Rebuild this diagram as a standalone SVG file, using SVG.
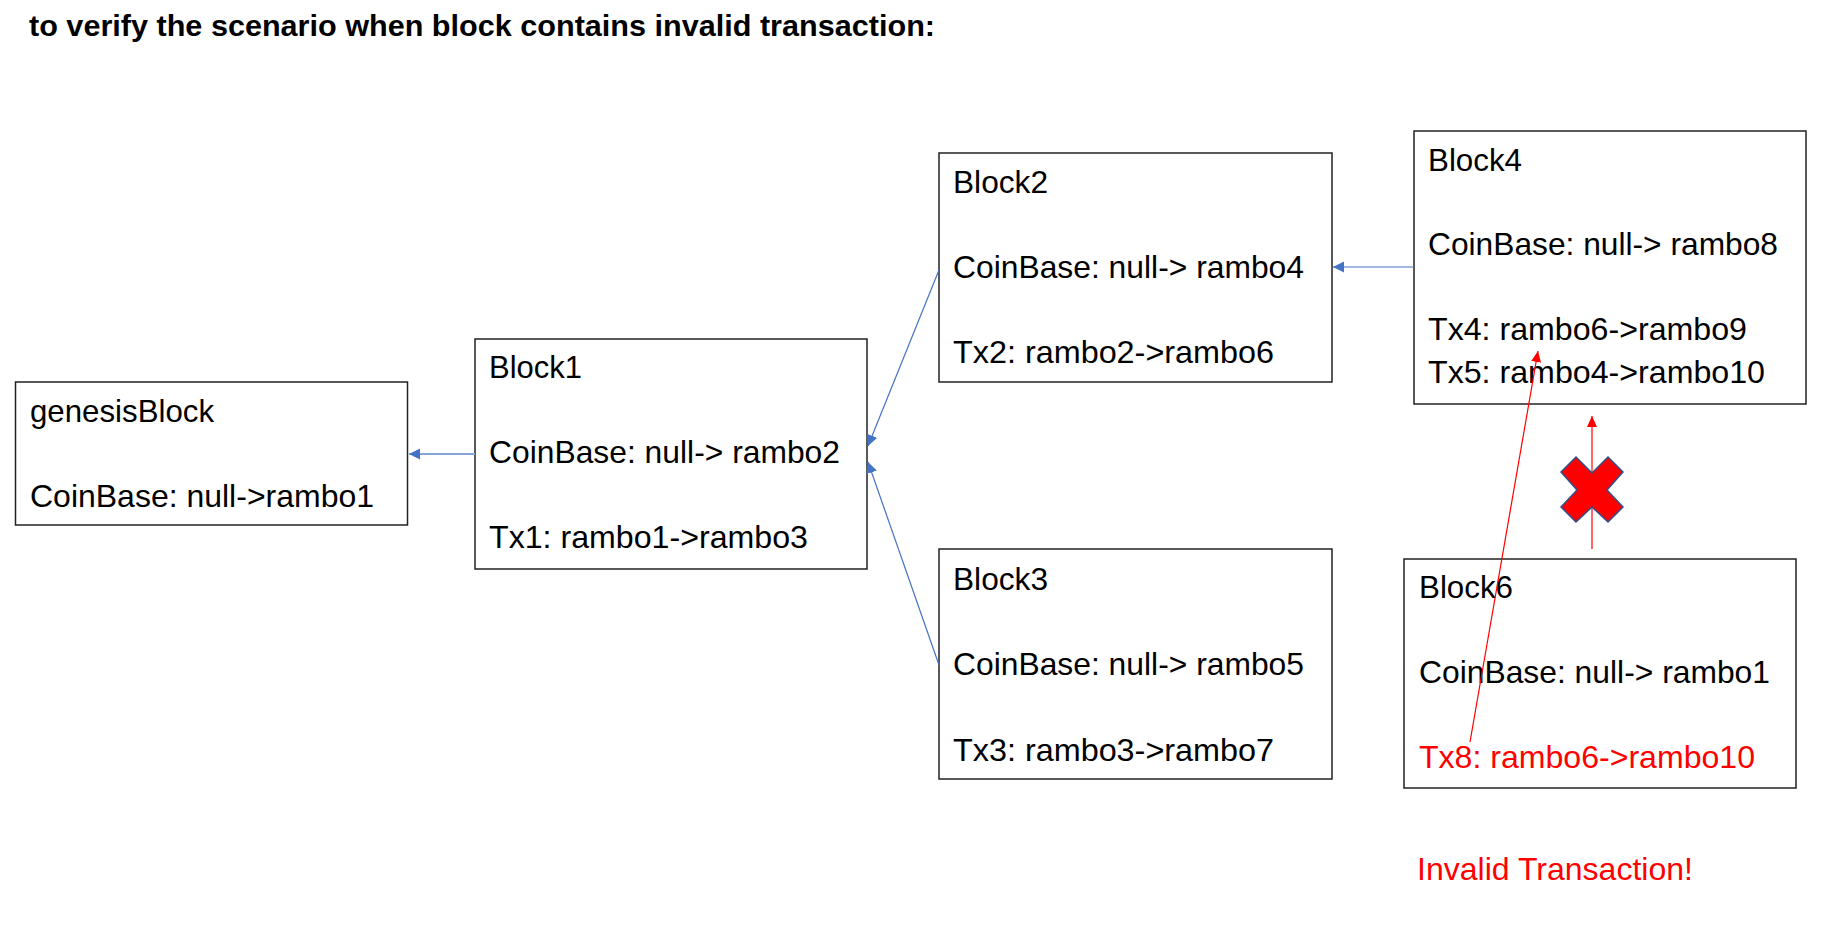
<svg xmlns="http://www.w3.org/2000/svg" width="1822" height="926" viewBox="0 0 1822 926">
<style>
.box{fill:#fff;stroke:#222;stroke-width:1.5}
.t{font-family:"Liberation Sans",Arial,sans-serif;font-size:31.5px;fill:#000}
.red{fill:#ff0000}
.title{font-family:"Liberation Sans",Arial,sans-serif;font-size:30px;font-weight:bold;fill:#000}
.conn{fill:none;stroke:#4472C4;stroke-width:1.2}
.conn2{fill:none;stroke:#86A4DA;stroke-width:2.2}
.rline{fill:none;stroke:#ff0000;stroke-width:1.2}
</style>
<defs>
<marker id="ab" markerUnits="userSpaceOnUse" markerWidth="12" markerHeight="12" refX="11" refY="5.5" orient="auto"><path d="M0,0 L11,5.5 L0,11 z" fill="#4472C4"/></marker>
<marker id="ar" markerUnits="userSpaceOnUse" markerWidth="12" markerHeight="12" refX="11" refY="5" orient="auto"><path d="M0,0 L11,5 L0,10 z" fill="#ff0000"/></marker>
</defs>
<rect width="1822" height="926" fill="#fff"/>
<text class="title" x="29" y="36" textLength="906" lengthAdjust="spacingAndGlyphs">to verify the scenario when block contains invalid transaction:</text>

<g id="genesisBlock">
<rect class="box" x="15.5" y="382" width="392" height="143"/>
<text class="t" x="30" y="422" textLength="184" lengthAdjust="spacingAndGlyphs">genesisBlock</text>
<text class="t" x="30" y="507" textLength="344" lengthAdjust="spacingAndGlyphs">CoinBase: null-&gt;rambo1</text>
</g>
<g id="block1">
<rect class="box" x="475" y="339" width="392" height="230"/>
<text class="t" x="489" y="378" textLength="93" lengthAdjust="spacingAndGlyphs">Block1</text>
<text class="t" x="489" y="463" textLength="351" lengthAdjust="spacingAndGlyphs">CoinBase: null-&gt; rambo2</text>
<text class="t" x="489" y="548" textLength="319" lengthAdjust="spacingAndGlyphs">Tx1: rambo1-&gt;rambo3</text>
</g>
<g id="block2">
<rect class="box" x="939" y="153" width="393" height="229"/>
<text class="t" x="953" y="193" textLength="95" lengthAdjust="spacingAndGlyphs">Block2</text>
<text class="t" x="953" y="278" textLength="351" lengthAdjust="spacingAndGlyphs">CoinBase: null-&gt; rambo4</text>
<text class="t" x="953" y="363" textLength="321" lengthAdjust="spacingAndGlyphs">Tx2: rambo2-&gt;rambo6</text>
</g>
<g id="block3">
<rect class="box" x="939" y="549" width="393" height="230"/>
<text class="t" x="953" y="590" textLength="95" lengthAdjust="spacingAndGlyphs">Block3</text>
<text class="t" x="953" y="675" textLength="351" lengthAdjust="spacingAndGlyphs">CoinBase: null-&gt; rambo5</text>
<text class="t" x="953" y="761" textLength="321" lengthAdjust="spacingAndGlyphs">Tx3: rambo3-&gt;rambo7</text>
</g>
<g id="block4">
<rect class="box" x="1414" y="131" width="392" height="273"/>
<text class="t" x="1428" y="171" textLength="94" lengthAdjust="spacingAndGlyphs">Block4</text>
<text class="t" x="1428" y="255" textLength="350" lengthAdjust="spacingAndGlyphs">CoinBase: null-&gt; rambo8</text>
<text class="t" x="1428" y="340" textLength="319" lengthAdjust="spacingAndGlyphs">Tx4: rambo6-&gt;rambo9</text>
<text class="t" x="1428" y="383" textLength="337" lengthAdjust="spacingAndGlyphs">Tx5: rambo4-&gt;rambo10</text>
</g>
<g id="block6">
<rect class="box" x="1404" y="559" width="392" height="229"/>
<text class="t" x="1419" y="598" textLength="94" lengthAdjust="spacingAndGlyphs">Block6</text>
<text class="t" x="1419" y="683" textLength="351" lengthAdjust="spacingAndGlyphs">CoinBase: null-&gt; rambo1</text>
<text class="t red" x="1419" y="768" textLength="336" lengthAdjust="spacingAndGlyphs">Tx8: rambo6-&gt;rambo10</text>
</g>
<g id="invalid-label">
<text class="t red" x="1417" y="880" textLength="276" lengthAdjust="spacingAndGlyphs">Invalid Transaction!</text>
</g>

<g id="connectors">
<line class="conn2" x1="475" y1="454" x2="409" y2="454" marker-end="url(#ab)"/>
<line class="conn" x1="939" y1="270" x2="868" y2="446" marker-end="url(#ab)"/>
<line class="conn" x1="939" y1="665" x2="868" y2="462" marker-end="url(#ab)"/>
<line class="conn" x1="1414" y1="267" x2="1333" y2="267" marker-end="url(#ab)"/>
<line class="rline" x1="1592" y1="549" x2="1592" y2="416" marker-end="url(#ar)"/>
<line class="rline" x1="1470" y1="742" x2="1538" y2="351" marker-end="url(#ar)"/>
</g>
<g id="red-cross">
<polygon points="1561,472 1576,457 1592,473 1608,457 1623,472 1607,490 1623,507 1608,522 1592,507 1576,522 1561,507 1577,490" fill="#ff0000" stroke="#2F528F" stroke-width="1.5" stroke-linejoin="miter"/>
</g>
</svg>
